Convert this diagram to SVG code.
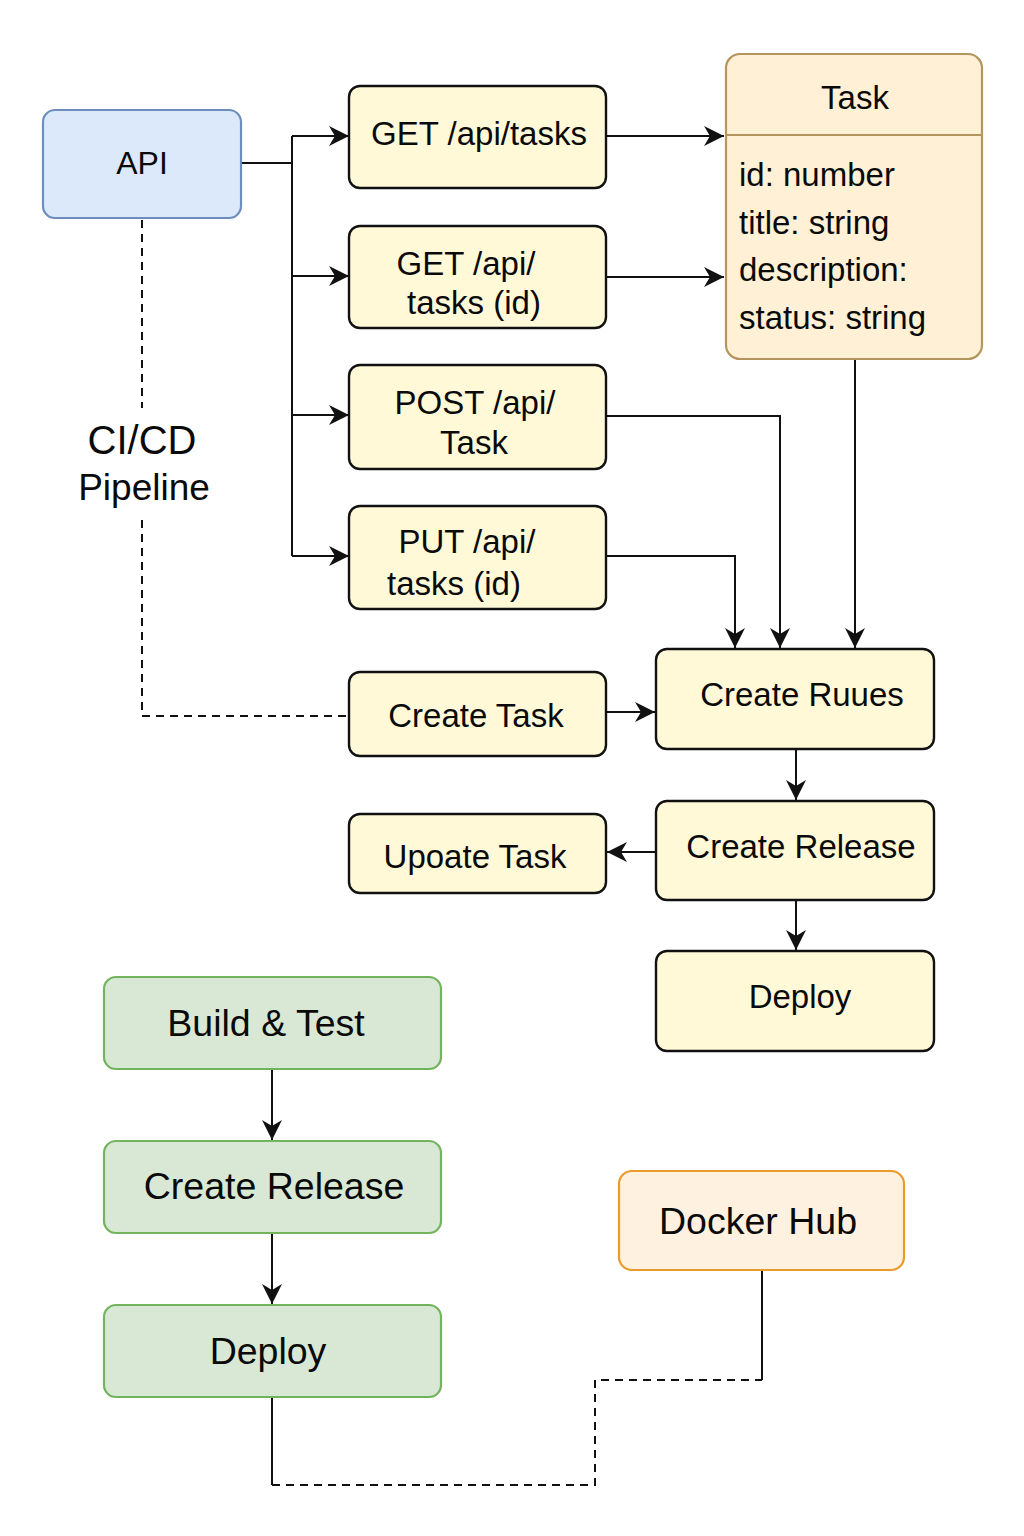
<svg xmlns="http://www.w3.org/2000/svg" width="1024" height="1536" viewBox="0 0 1024 1536">
<style>
text{font-family:"Liberation Sans",Arial,sans-serif;fill:#0a0a0a;text-anchor:middle;dominant-baseline:central}
.y{fill:#fff9d8;stroke:#111;stroke-width:2.4}
.g{fill:#d8e8d5;stroke:#74b35e;stroke-width:2.2}
.c{fill:none;stroke:#111;stroke-width:2}
.d{fill:none;stroke:#111;stroke-width:2;stroke-dasharray:8 6}
.f30{font-size:33px}
.f36{font-size:37.5px}
</style>
<defs>
<marker id="a" viewBox="0 0 10 10" refX="10" refY="5" markerWidth="10" markerHeight="10" orient="auto">
<path d="M0,0 L10,5 L0,10 L3,5 z" fill="#111"/>
</marker>
</defs>
<rect width="1024" height="1536" fill="#fff"/>
<g id="connectors">
<path class="c" d="M241,163 H292 M292,136 V556"/>
<path class="c" d="M292,136 H349" marker-end="url(#a)"/>
<path class="c" d="M292,276 H349" marker-end="url(#a)"/>
<path class="c" d="M292,415 H349" marker-end="url(#a)"/>
<path class="c" d="M292,556 H349" marker-end="url(#a)"/>
<path class="c" d="M606,136 H724" marker-end="url(#a)"/>
<path class="c" d="M606,277 H724" marker-end="url(#a)"/>
<path class="c" d="M606,416 H780 V648" marker-end="url(#a)"/>
<path class="c" d="M606,556 H735 V648" marker-end="url(#a)"/>
<path class="c" d="M855,360 V648" marker-end="url(#a)"/>
<path class="c" d="M606,712 H655" marker-end="url(#a)"/>
<path class="c" d="M796,749 V800" marker-end="url(#a)"/>
<path class="c" d="M656,852 H607" marker-end="url(#a)"/>
<path class="c" d="M796,900 V950" marker-end="url(#a)"/>
<path class="c" d="M272,1069 V1140" marker-end="url(#a)"/>
<path class="c" d="M272,1233 V1304" marker-end="url(#a)"/>
<path class="d" d="M142,220 V408 M142,520 V716 H349"/>
<path class="c" d="M272,1397 V1485"/>
<path class="d" d="M272,1485 H595 V1380 H762"/>
<path class="c" d="M762,1271 V1380"/>
</g>
<g id="api">
<rect x="43" y="110" width="198" height="108" rx="12" fill="#dce9fb" stroke="#6c8ebf" stroke-width="2.2"/>
<text x="142" y="163" style="font-size:32px">API</text>
</g>
<g id="cicd-label">
<text x="142" y="440" style="font-size:40px">CI/CD</text>
<text x="144" y="487" style="font-size:37px">Pipeline</text>
</g>
<g id="get-tasks">
<rect class="y" x="349" y="86" width="257" height="102" rx="11"/>
<text class="f30" x="479" y="133">GET /api/tasks</text>
</g>
<g id="get-task-id">
<rect class="y" x="349" y="226" width="257" height="102" rx="11"/>
<text class="f30" x="466" y="263">GET /api/</text>
<text class="f30" x="474" y="302">tasks (id)</text>
</g>
<g id="post-task">
<rect class="y" x="349" y="365" width="257" height="104" rx="11"/>
<text class="f30" x="475" y="402">POST /api/</text>
<text class="f30" x="474" y="442">Task</text>
</g>
<g id="put-task">
<rect class="y" x="349" y="506" width="257" height="103" rx="11"/>
<text class="f30" x="467" y="541">PUT /api/</text>
<text class="f30" x="454" y="583">tasks (id)</text>
</g>
<g id="task-entity">
<rect x="726" y="54" width="256" height="305" rx="14" fill="#fff0d6" stroke="#b5955e" stroke-width="2.2"/>
<line x1="727" y1="135" x2="981" y2="135" stroke="#b5955e" stroke-width="2"/>
<text class="f30" x="855" y="97">Task</text>
<text class="f30" x="739" y="174" style="text-anchor:start">id: number</text>
<text class="f30" x="739" y="222" style="text-anchor:start">title: string</text>
<text class="f30" x="739" y="269" style="text-anchor:start">description:</text>
<text class="f30" x="739" y="317" style="text-anchor:start">status: string</text>
</g>
<g id="create-task">
<rect class="y" x="349" y="672" width="257" height="84" rx="11"/>
<text class="f30" x="476" y="715">Create Task</text>
</g>
<g id="update-task">
<rect class="y" x="349" y="814" width="257" height="79" rx="11"/>
<text class="f30" x="475" y="856">Upoate Task</text>
</g>
<g id="create-ruues">
<rect class="y" x="656" y="649" width="278" height="100" rx="11"/>
<text class="f30" x="802" y="694">Create Ruues</text>
</g>
<g id="create-release-1">
<rect class="y" x="656" y="801" width="278" height="99" rx="11"/>
<text class="f30" x="801" y="846">Create Release</text>
</g>
<g id="deploy-1">
<rect class="y" x="656" y="951" width="278" height="100" rx="11"/>
<text class="f30" x="800" y="996">Deploy</text>
</g>
<g id="build-test">
<rect class="g" x="104" y="977" width="337" height="92" rx="12"/>
<text class="f36" x="266" y="1023">Build &amp; Test</text>
</g>
<g id="create-release-2">
<rect class="g" x="104" y="1141" width="337" height="92" rx="12"/>
<text class="f36" x="274" y="1186">Create Release</text>
</g>
<g id="deploy-2">
<rect class="g" x="104" y="1305" width="337" height="92" rx="12"/>
<text class="f36" x="268" y="1351">Deploy</text>
</g>
<g id="docker-hub">
<rect x="619" y="1171" width="285" height="99" rx="13" fill="#fff1df" stroke="#eb9a2c" stroke-width="2.2"/>
<text class="f36" x="758" y="1221">Docker Hub</text>
</g>
</svg>
